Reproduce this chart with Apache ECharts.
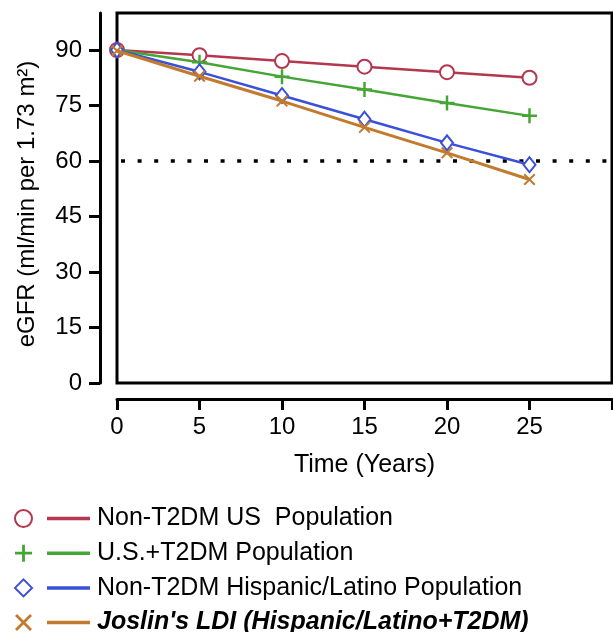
<!DOCTYPE html>
<html>
<head>
<meta charset="utf-8">
<script src="https://cdn.jsdelivr.net/npm/echarts@6/dist/echarts.min.js"></script>
<style>html,body{margin:0;padding:0;background:#fff}#c{width:613px;height:632px}</style>
</head>
<body>
<div id="c"></div>
<script>
// ---- data ----
const years = [0, 5, 10, 15, 20, 25];
const nonT2dmUS = [90, 88.6, 87.0, 85.5, 84.0, 82.5];
const usT2dm = [90, 86.7, 82.8, 79.3, 75.7, 72.2];
const nonT2dmHispanic = [90, 84.1, 77.7, 71.3, 64.9, 59.0];
const joslinLDI = [89.8, 82.9, 76.2, 69.1, 62.2, 55.0];
const threshold = [60];
const xTickValues = [0, 5, 10, 15, 20, 25, 30];
const xLabelValues = [0, 5, 10, 15, 20, 25];
const yTickValues = [0, 15, 30, 45, 60, 75, 90];
const seriesNames = [
  'Non-T2DM US  Population',
  'U.S.+T2DM Population',
  'Non-T2DM Hispanic/Latino Population',
  "Joslin's LDI (Hispanic/Latino+T2DM)"
];

const FONT = '"Liberation Sans", Arial, Helvetica, sans-serif';
const colors = ['#b3374f', '#45a535', '#3a50d8', '#c27b2e'];
const PLUS = 'path://M5,0H7V5H12V7H7V12H5V7H0V5H5Z';
const CROSS = 'path://M0,1.4L1.4,0L6,4.6L10.6,0L12,1.4L7.4,6L12,10.6L10.6,12L6,7.4L1.4,12L0,10.6L4.6,6Z';
const symbols = ['emptyCircle', PLUS, 'emptyDiamond', CROSS];
const symbolSizes = [14, 15, [12, 15], 12];
const borderWidths = [3, 0, 2.5, 0];
const lineWidths = [2.5, 2.5, 2.5, 3];
const values = [nonT2dmUS, usT2dm, nonT2dmHispanic, joslinLDI];

const series = values.map((v, i) => ({
  name: seriesNames[i],
  type: 'line',
  data: years.map((t, k) => [t, v[k]]),
  symbol: symbols[i],
  symbolSize: symbolSizes[i],
  showAllSymbol: true,
  lineStyle: { color: colors[i], width: lineWidths[i] },
  itemStyle: { color: colors[i], borderColor: colors[i], borderWidth: borderWidths[i] },
  emphasis: { disabled: true },
  z: 3 + i,
  animation: false
}));
series.push({
  type: 'line',
  data: [],
  silent: true,
  markLine: {
    silent: true,
    symbol: 'none',
    label: { show: false },
    lineStyle: { color: '#000', width: 3.5, type: [4, 12.6], dashOffset: -4 },
    data: threshold.map(v => ({ yAxis: v }))
  },
  animation: false
});

const legendText = seriesNames.map((n, i) => ({
  name: n,
  icon: 'rect',
  itemStyle: { color: colors[i], borderWidth: 0 },
  textStyle: i === 3 ? { fontWeight: 'bold', fontStyle: 'italic' } : {}
}));
const legendSym = seriesNames.map((n, i) => ({
  name: n,
  icon: symbols[i],
  itemStyle: { color: colors[i], borderColor: colors[i], borderWidth: borderWidths[i] }
}));

const chart = echarts.init(document.getElementById('c'));
chart.setOption({
  animation: false,
  textStyle: { fontFamily: FONT },
  grid: {
    left: 117, right: 1, top: 13, bottom: 249,
    show: true, borderColor: '#000', borderWidth: 3, backgroundColor: 'transparent'
  },
  xAxis: {
    type: 'value', min: 0, max: 30, interval: 5,
    position: 'bottom', offset: 16,
    name: 'Time (Years)', nameLocation: 'middle', nameGap: 54,
    nameTextStyle: { color: '#000', fontSize: 25, fontFamily: FONT },
    axisLine: { show: true, onZero: false, lineStyle: { color: '#000', width: 3 } },
    axisTick: { show: true, length: 11, lineStyle: { color: '#000', width: 3 }, customValues: xTickValues },
    axisLabel: { color: '#000', fontSize: 24, margin: 16, fontFamily: FONT, customValues: xLabelValues },
    splitLine: { show: false }
  },
  yAxis: {
    type: 'value', min: 0, max: 100, interval: 15,
    position: 'left', offset: 17,
    name: 'eGFR (ml/min per 1.73 m²)', nameLocation: 'middle', nameGap: 61,
    nameTextStyle: { color: '#000', fontSize: 24, fontFamily: FONT, padding: [0, 12, 0, 0] },
    axisLine: { show: true, onZero: false, lineStyle: { color: '#000', width: 3 } },
    axisTick: { show: true, length: 11, lineStyle: { color: '#000', width: 3 }, customValues: yTickValues },
    axisLabel: { color: '#000', fontSize: 24, margin: 18, fontFamily: FONT, customValues: yTickValues },
    splitLine: { show: false }
  },
  legend: [
    {
      orient: 'vertical', left: 14, top: 506, height: 160, padding: 0,
      itemWidth: 17, itemHeight: 17, itemGap: 9.7,
      data: legendSym,
      formatter: () => ' ',
      textStyle: { fontSize: 25, fontFamily: FONT },
      selectedMode: false
    },
    {
      orient: 'vertical', left: 47, top: 506, height: 160, padding: 0,
      itemWidth: 43, itemHeight: 3.5, itemGap: 9.7,
      data: legendText,
      textStyle: { color: '#000', fontSize: 25, fontFamily: FONT, padding: [0, 0, 0, 2] },
      selectedMode: false
    }
  ],
  series: series
});
</script>
</body>
</html>
